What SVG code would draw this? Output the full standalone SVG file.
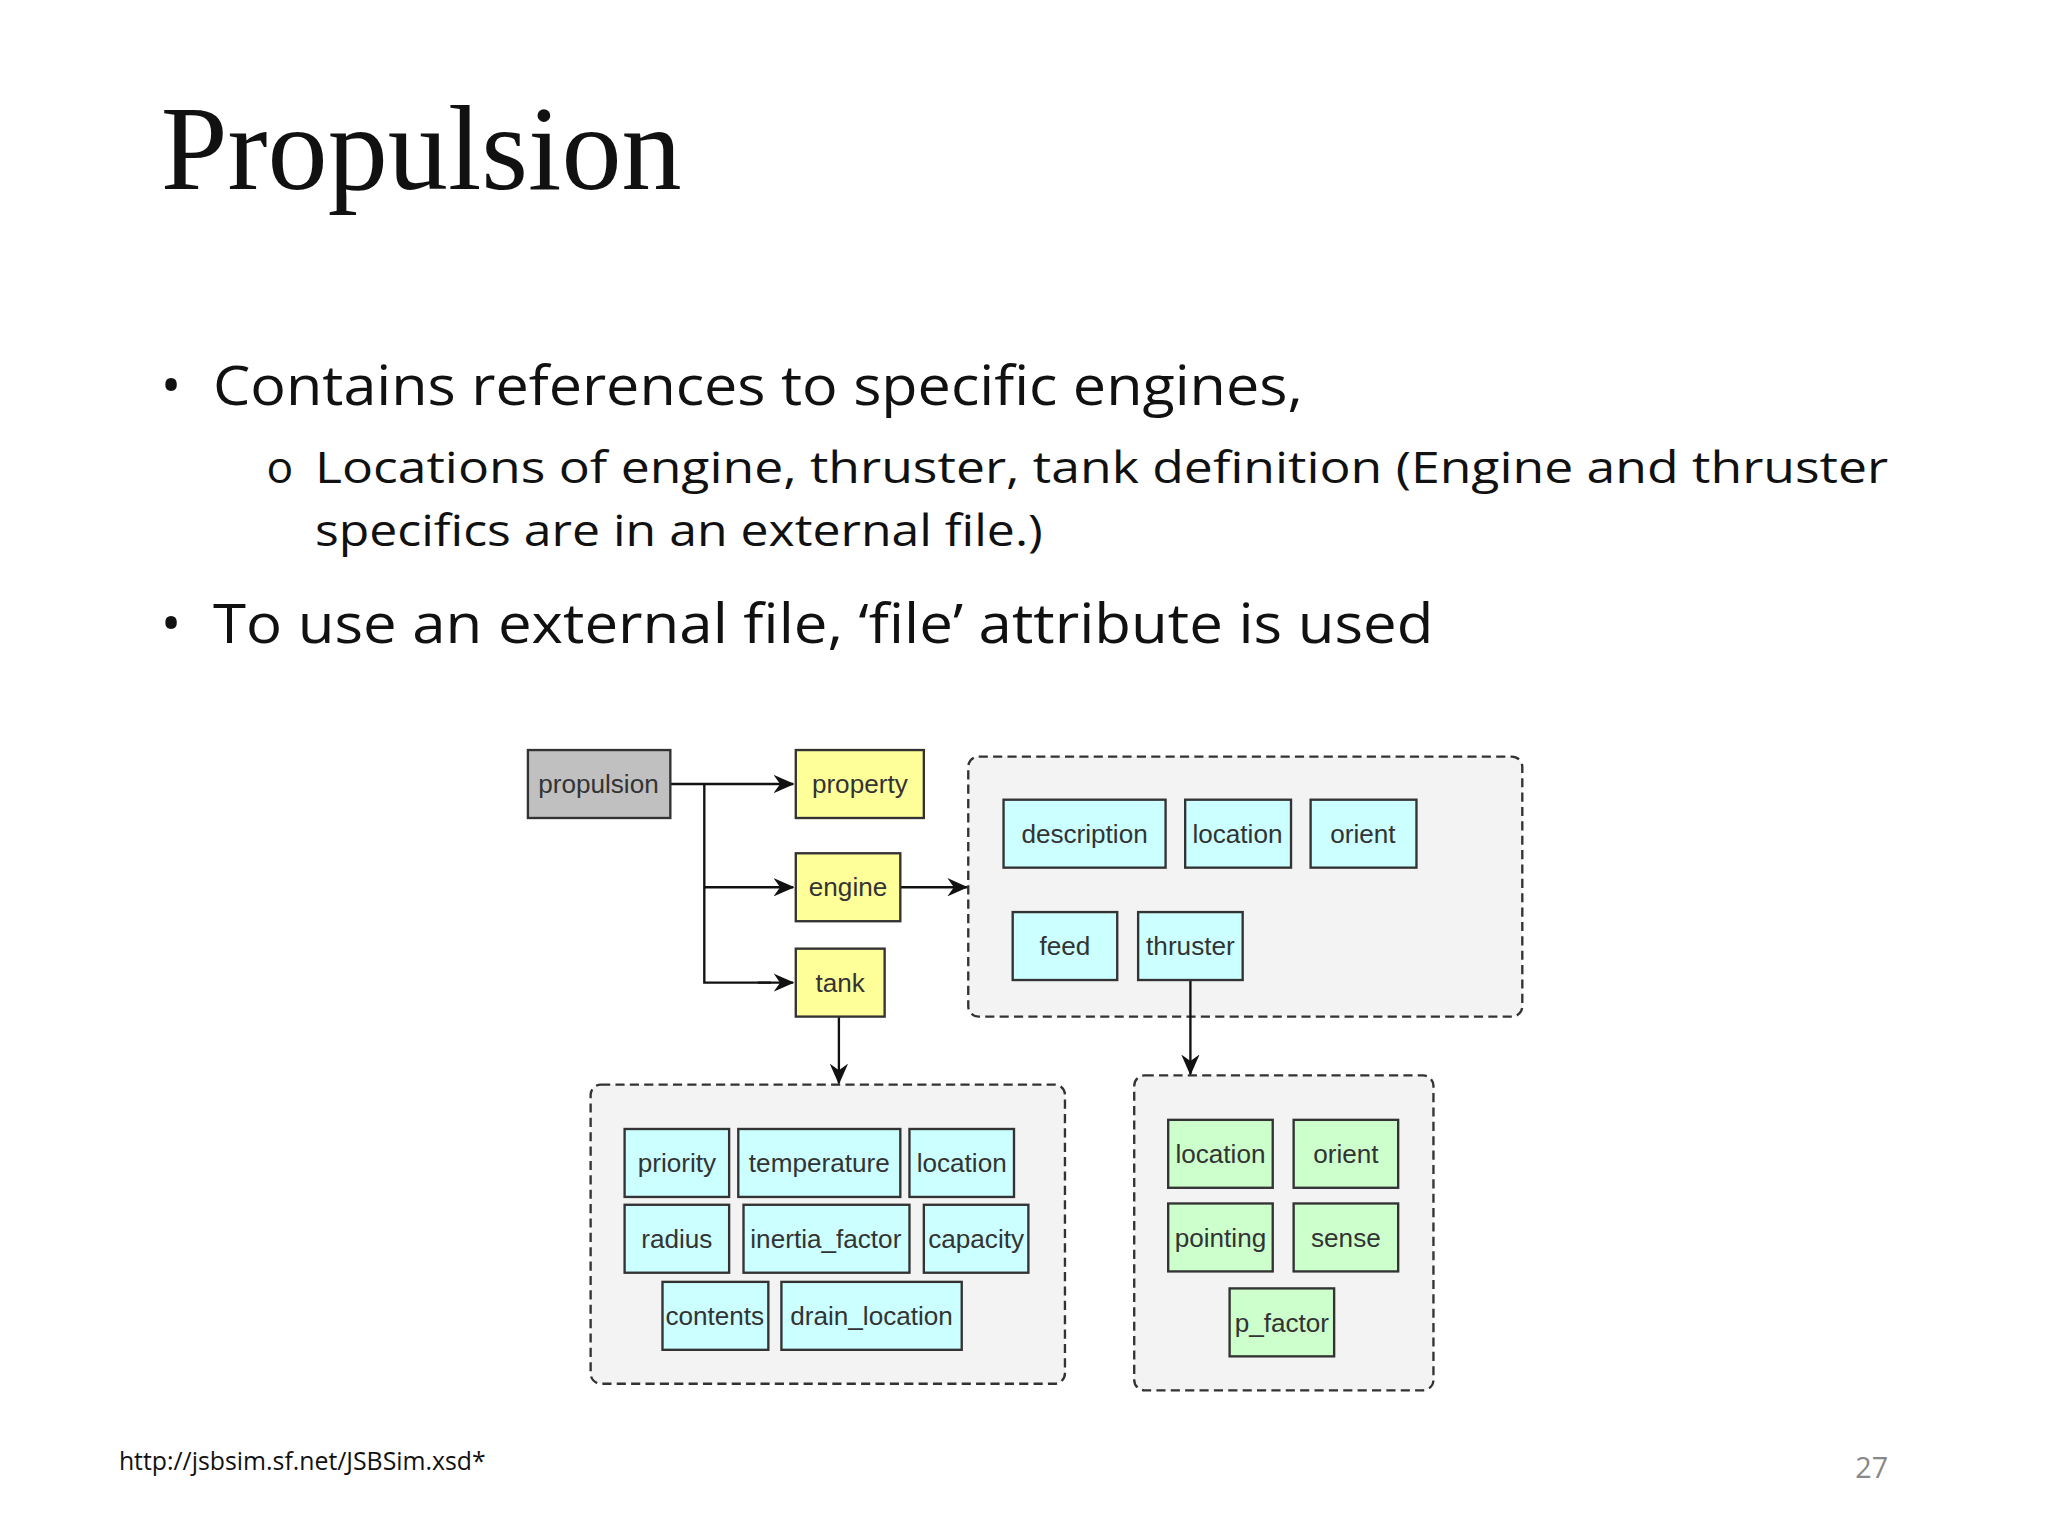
<svg xmlns="http://www.w3.org/2000/svg" width="2048" height="1536" viewBox="0 0 2048 1536">
<defs>
<marker id="ah" markerWidth="16" markerHeight="14" refX="15" refY="7" orient="auto" markerUnits="userSpaceOnUse"><path d="M0,0 L16,7 L0,14 L5,7 Z" fill="#111"/></marker>
<style>
.t{font-family:"Open Sans","Liberation Sans",sans-serif;fill:#111}
.n rect{stroke:#333;stroke-width:1.8}
.n text{font-family:"Liberation Sans",Arial,sans-serif;font-size:20px;fill:#333;text-anchor:middle}
.g{fill:#c0c0c0}.y{fill:#ffff99}.c{fill:#ccffff}.gr{fill:#ccffcc}
.box{fill:#f3f3f3;stroke:#333;stroke-width:1.8;stroke-dasharray:7 4}
.ln{stroke:#111;stroke-width:1.8;fill:none}
</style>
</defs>
<rect width="2048" height="1536" fill="#fff"/>
<g transform="scale(1.3067)">
<text x="123" y="145" font-family="Liberation Serif,serif" font-size="92" fill="#111">Propulsion</text>
<text class="t" x="123" y="310" font-size="42">•</text>
<text class="t" x="163" y="310" font-size="42" textLength="834" lengthAdjust="spacingAndGlyphs">Contains references to specific engines,</text>
<text class="t" x="204" y="370" font-size="34">o</text>
<text class="t" x="241" y="370" font-size="33" textLength="1204" lengthAdjust="spacingAndGlyphs">Locations of engine, thruster, tank definition (Engine and thruster</text>
<text class="t" x="241" y="418" font-size="34" textLength="557" lengthAdjust="spacingAndGlyphs">specifics are in an external file.)</text>
<text class="t" x="123" y="492" font-size="42">•</text>
<text class="t" x="163" y="492" font-size="42" textLength="934" lengthAdjust="spacingAndGlyphs">To use an external file, ‘file’ attribute is used</text>
<text class="t" x="91" y="1125" font-size="19">http://jsbsim.sf.net/JSBSim.xsd*</text>
<text class="t" x="1445" y="1131" font-size="22" style="fill:#888" text-anchor="end">27</text>

<rect id="engine-box" class="box" x="741" y="579" width="424" height="199" rx="8"/>
<rect id="tank-box" class="box" x="452" y="830" width="363" height="229" rx="8"/>
<rect id="thruster-box" class="box" x="868" y="823" width="229" height="241" rx="8"/>

<g id="connectors">
<path class="ln" d="M513,600 H607" marker-end="url(#ah)"/>
<path class="ln" d="M539,600 V752 H590"/>
<path class="ln" d="M539,679 H607" marker-end="url(#ah)"/>
<path class="ln" d="M580,752 H607" marker-end="url(#ah)"/>
<path class="ln" d="M689,679 H740" marker-end="url(#ah)"/>
<path class="ln" d="M642,778 V829" marker-end="url(#ah)"/>
<path class="ln" d="M911,750 V822" marker-end="url(#ah)"/>
</g>

<g id="propulsion" class="n"><rect class="g" x="404" y="574" width="109" height="52"/><text x="458" y="607">propulsion</text></g>
<g id="property" class="n"><rect class="y" x="609" y="574" width="98" height="52"/><text x="658" y="607">property</text></g>
<g id="engine" class="n"><rect class="y" x="609" y="653" width="80" height="52"/><text x="649" y="686">engine</text></g>
<g id="tank" class="n"><rect class="y" x="609" y="726" width="68" height="52"/><text x="643" y="759">tank</text></g>

<g id="e-description" class="n"><rect class="c" x="768" y="612" width="124" height="52"/><text x="830" y="645">description</text></g>
<g id="e-location" class="n"><rect class="c" x="907" y="612" width="81" height="52"/><text x="947" y="645">location</text></g>
<g id="e-orient" class="n"><rect class="c" x="1003" y="612" width="81" height="52"/><text x="1043" y="645">orient</text></g>
<g id="e-feed" class="n"><rect class="c" x="775" y="698" width="80" height="52"/><text x="815" y="731">feed</text></g>
<g id="e-thruster" class="n"><rect class="c" x="871" y="698" width="80" height="52"/><text x="911" y="731">thruster</text></g>

<g id="t-priority" class="n"><rect class="c" x="478" y="864" width="80" height="52"/><text x="518" y="897">priority</text></g>
<g id="t-temperature" class="n"><rect class="c" x="565" y="864" width="124" height="52"/><text x="627" y="897">temperature</text></g>
<g id="t-location" class="n"><rect class="c" x="696" y="864" width="80" height="52"/><text x="736" y="897">location</text></g>
<g id="t-radius" class="n"><rect class="c" x="478" y="922" width="80" height="52"/><text x="518" y="955">radius</text></g>
<g id="t-inertia" class="n"><rect class="c" x="569" y="922" width="127" height="52"/><text x="632" y="955">inertia_factor</text></g>
<g id="t-capacity" class="n"><rect class="c" x="707" y="922" width="80" height="52"/><text x="747" y="955">capacity</text></g>
<g id="t-contents" class="n"><rect class="c" x="507" y="981" width="81" height="52"/><text x="547" y="1014">contents</text></g>
<g id="t-drain" class="n"><rect class="c" x="598" y="981" width="138" height="52"/><text x="667" y="1014">drain_location</text></g>

<g id="r-location" class="n"><rect class="gr" x="894" y="857" width="80" height="52"/><text x="934" y="890">location</text></g>
<g id="r-orient" class="n"><rect class="gr" x="990" y="857" width="80" height="52"/><text x="1030" y="890">orient</text></g>
<g id="r-pointing" class="n"><rect class="gr" x="894" y="921" width="80" height="52"/><text x="934" y="954">pointing</text></g>
<g id="r-sense" class="n"><rect class="gr" x="990" y="921" width="80" height="52"/><text x="1030" y="954">sense</text></g>
<g id="r-pfactor" class="n"><rect class="gr" x="941" y="986" width="80" height="52"/><text x="981" y="1019">p_factor</text></g>
</g>
</svg>
